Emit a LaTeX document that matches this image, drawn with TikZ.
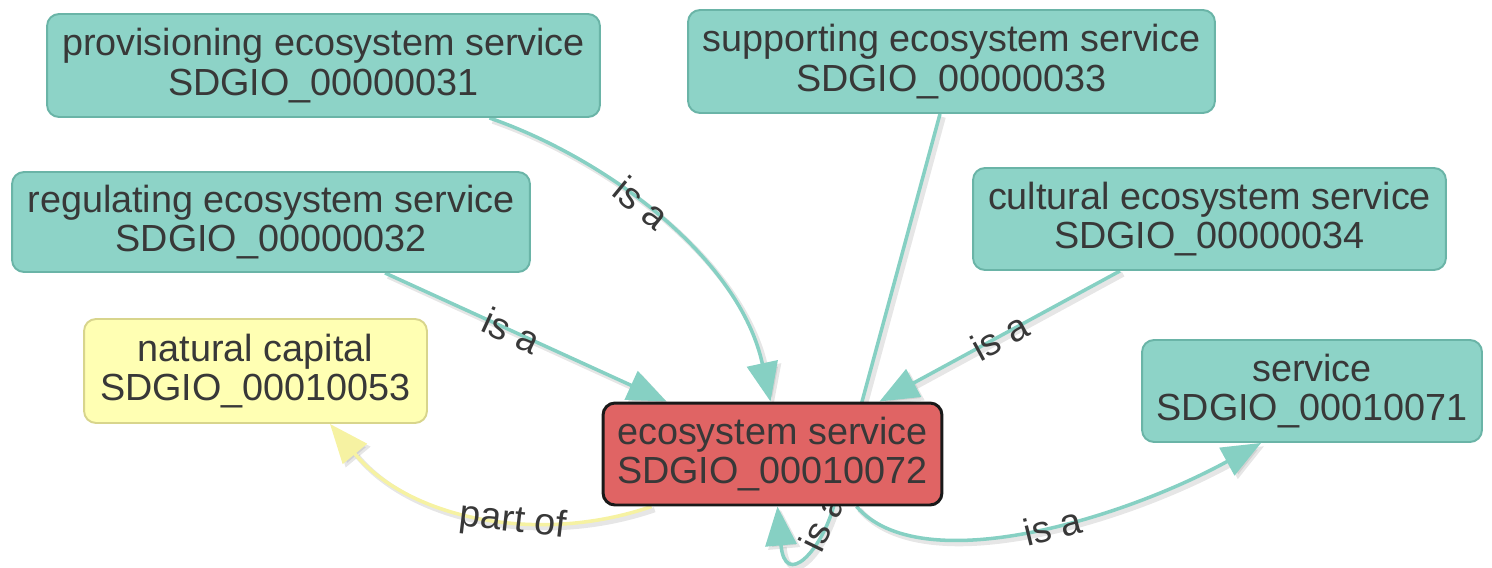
\documentclass[tikz,border=0pt]{standalone}
\usepackage{fontspec}
\setmainfont{Liberation Sans}
\usetikzlibrary{arrows.meta,backgrounds,calc}
\definecolor{tealf}{HTML}{8DD3C7}
\definecolor{tealb}{HTML}{6AB4A7}
\definecolor{tealedge}{HTML}{86D0C3}
\definecolor{yelf}{HTML}{FFFFB3}
\definecolor{yelb}{HTML}{D8D58C}
\definecolor{yeledge}{HTML}{F6F2A2}
\definecolor{redf}{HTML}{E06464}
\definecolor{txt}{HTML}{383838}
\begin{document}
\begin{tikzpicture}[x=0.02cm,y=-0.02cm,
  box/.style={rounded corners=0.24cm, line width=1.1pt, align=center, text=txt,
    font=\fontsize{21.5}{22.5}\selectfont, inner sep=0pt},
  tbox/.style={box, fill=tealf, draw=tealb},
  ybox/.style={box, fill=yelf, draw=yelb},
  rbox/.style={box, fill=redf, draw=black!90, line width=1.7pt},
  shad/.style={preaction={draw=black!45, opacity=0.22, line width=3pt,
    transform canvas={shift={(1.8pt,-1.8pt)}}}},
  edge/.style={shad, draw=tealedge, line width=2pt,
    -{Triangle[length=0.78cm,width=0.62cm]}},
  yedge/.style={edge, draw=yeledge},
  lbl/.style={text=txt, font=\fontsize{21.5}{22.5}\selectfont, inner sep=1pt}
]
\useasboundingbox (0,0) rectangle (1492,568);

\node[tbox, minimum width=11.06cm, minimum height=2.06cm] (prov) at (323.5,65.5)
  {provisioning ecosystem service\\SDGIO\_00000031};
\node[tbox, minimum width=10.54cm, minimum height=2.06cm] (sup) at (951.5,61.5)
  {supporting ecosystem service\\SDGIO\_00000033};
\node[tbox, minimum width=10.36cm, minimum height=2.0cm] (reg) at (271,222)
  {regulating ecosystem service\\SDGIO\_00000032};
\node[tbox, minimum width=9.46cm, minimum height=2.04cm] (cul) at (1209.5,219)
  {cultural ecosystem service\\SDGIO\_00000034};
\node[ybox, minimum width=6.86cm, minimum height=2.08cm] (nat) at (255.5,371)
  {natural capital\\SDGIO\_00010053};
\node[rbox, minimum width=6.78cm, minimum height=2.04cm] (eco) at (772.5,454)
  {ecosystem service\\SDGIO\_00010072};
\node[tbox, minimum width=6.8cm, minimum height=2.04cm] (ser) at (1312,391)
  {service\\SDGIO\_00010071};

\begin{scope}[on background layer]
\draw[edge] ($(prov.south)+(166,0)$) .. controls (610,160) and (740,260) ..
  node[lbl, sloped, pos=0.43] {is a} ($(eco.north)+(-2,0)$);
\draw[edge] ($(reg.south)+(114,0)$) --
  node[lbl, sloped, pos=0.45] {is a} ($(eco.north west)+(65,0)$);
\draw[edge] ($(cul.south)+(-89.5,0)$) --
  node[lbl, sloped, pos=0.5] {is a} ($(eco.north east)+(-64,0)$);
\draw[edge] ($(sup.south)+(-11.5,0)$) -- (834,505) .. controls (822,550) and (785,590) ..
  ($(eco.south)+(5,0)$);
\node[lbl, rotate=64] (lsup) at (822,522) {is a};
\draw[yedge] ($(eco.south west)+(50,0)$) .. controls (540,545) and (410,520) ..
  node[lbl, sloped, pos=0.4] {part of} ($(nat.south)+(74.5,0)$);
\draw[edge] ($(eco.south east)+(-87,0)$) .. controls (920,580) and (1120,520) ..
  node[lbl, sloped, pos=0.55] {is a} ($(ser.south west)+(120,0)$);
\end{scope}
\end{tikzpicture}
\end{document}
